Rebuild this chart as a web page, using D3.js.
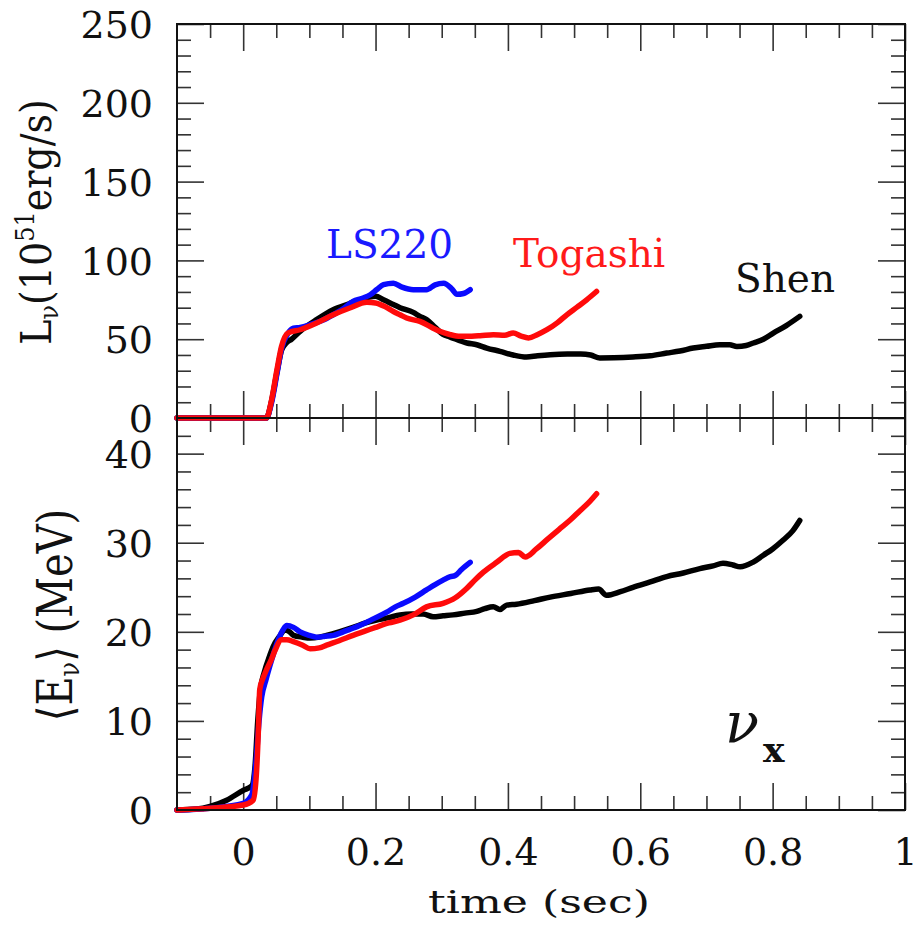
<!DOCTYPE html>
<html><head><meta charset="utf-8">
<script src="https://cdn.jsdelivr.net/npm/d3@7"></script>
<style>body{margin:0;background:#fff;} svg{display:block;} text{font-family:"DejaVu Serif",serif;fill:#111;}</style>
</head><body><svg id="c" width="920" height="931"></svg>
<script>
// ---------- data: luminosity (top panel) ----------
const shenLumT = [-0.1,0.035,0.043,0.051,0.058,0.066,0.073,0.086,0.111,0.136,0.16,0.176,0.2,0.212,0.227,0.237,0.257,0.267,0.277,0.29,0.302,0.312,0.338,0.353,0.368,0.388,0.408,0.428,0.445,0.464,0.49,0.51,0.525,0.539,0.56,0.589,0.615,0.64,0.66,0.68,0.7,0.72,0.735,0.746,0.76,0.771,0.786,0.801,0.82,0.841];
const shenLum  = [0,0,11,29,43,48,50,55,62.4,68.7,72.5,75,77.2,75,72,70,67,64.5,62.5,57.5,53,51.5,47.6,46.5,44.4,42.3,40,38.7,39.5,40.2,40.6,40.6,40,38.1,38.2,38.7,39.5,41.2,42.5,44.4,45.5,46.5,46.5,45.4,46,47.6,50,53.9,58.5,64.5];
const togLumT = [-0.1,0.035,0.043,0.051,0.058,0.068,0.086,0.111,0.136,0.161,0.187,0.2,0.215,0.227,0.237,0.247,0.267,0.287,0.297,0.312,0.328,0.338,0.358,0.378,0.395,0.408,0.42,0.431,0.445,0.459,0.475,0.489,0.505,0.519,0.534];
const togLum  = [0,0,11.6,30.6,45.5,54,56,60.3,65.5,69.8,73.4,73,70.5,67.6,65.5,63.4,61.3,57,55,53,51.8,51.8,52.2,52.9,52.5,53.9,52,50.8,53,56,60.5,65.5,70.5,75,80.3];
const lsLumT = [-0.1,0.035,0.043,0.051,0.058,0.068,0.076,0.086,0.101,0.12,0.136,0.15,0.166,0.18,0.192,0.202,0.212,0.227,0.24,0.257,0.277,0.29,0.303,0.315,0.323,0.333,0.343];
const lsLum  = [0,0,10,28,44,54,57,57.5,59.2,62,65.5,69,74,76,78.2,81.5,84.6,85.5,83,81.4,81.4,84.5,85.5,82,78.5,79,81.4];

// ---------- data: mean energy (bottom panel) ----------
const shenET = [-0.1,-0.07,-0.05,-0.025,0,0.013,0.018,0.022,0.026,0.032,0.04,0.045,0.055,0.063,0.07,0.076,0.09,0.101,0.115,0.126,0.145,0.166,0.185,0.2,0.22,0.237,0.255,0.272,0.287,0.302,0.317,0.335,0.353,0.365,0.378,0.388,0.398,0.413,0.44,0.464,0.495,0.524,0.537,0.549,0.57,0.589,0.615,0.64,0.665,0.69,0.71,0.725,0.74,0.751,0.77,0.786,0.8,0.816,0.83,0.841];
const shenE  = [0,0.1,0.4,1.1,2.2,2.7,5,10,13.5,15.5,17.3,18.3,19.5,20.2,20,19.6,19.4,19.3,19.4,19.6,20,20.5,21,21.3,21.6,21.9,22,22,21.7,21.8,21.9,22.1,22.3,22.6,22.8,22.5,23,23.1,23.5,23.9,24.3,24.7,24.8,24.1,24.5,25,25.6,26.2,26.6,27.1,27.4,27.7,27.5,27.3,27.8,28.6,29.3,30.3,31.3,32.5];
const togET = [-0.1,-0.05,0,0.015,0.02,0.023,0.025,0.03,0.035,0.042,0.048,0.058,0.066,0.076,0.09,0.101,0.115,0.126,0.145,0.166,0.185,0.2,0.22,0.237,0.257,0.277,0.302,0.32,0.338,0.35,0.363,0.383,0.403,0.416,0.426,0.443,0.46,0.479,0.495,0.509,0.522,0.534];
const togE  = [0,0.2,0.56,1.1,4.1,9,13.5,14.8,15.7,16.8,17.9,19.1,19.1,18.9,18.5,18.1,18.2,18.5,19,19.6,20.1,20.5,21,21.3,21.9,22.8,23.2,23.8,24.9,25.8,26.7,27.8,28.8,28.9,28.4,29.3,30.4,31.6,32.6,33.6,34.5,35.5];
const lsET = [-0.1,-0.05,0,0.013,0.02,0.024,0.028,0.034,0.04,0.047,0.053,0.06,0.066,0.076,0.086,0.1,0.111,0.124,0.136,0.155,0.176,0.195,0.217,0.23,0.242,0.26,0.277,0.29,0.302,0.313,0.32,0.33,0.343];
const lsE  = [0,0.2,0.75,1.7,6,10,12.7,14.5,16.1,17.8,19.1,20.2,20.7,20.5,20,19.6,19.4,19.5,19.6,20.1,20.7,21.4,22.2,22.8,23.2,23.9,24.7,25.3,25.8,26.2,26.3,27,27.8];

// ---------- ticks ----------
const xTicks = [0,0.2,0.4,0.6,0.8,1];
const xTickLabels = ["0","0.2","0.4","0.6","0.8","1"];
const lumTicks = [0,50,100,150,200,250];
const eTicks = [0,10,20,30,40];

const svg = d3.select("#c");
const L = 177, R = 905, T1 = 24, B1 = 418, B2 = 810;
const x = d3.scaleLinear().domain([-0.1, 1]).range([L, R]);
const yL = d3.scaleLinear().domain([0, 250]).range([B1, T1]);
const yE = d3.scaleLinear().domain([0, 44]).range([B2, B1]);

const xMinor = d3.range(-0.05, 1.001, 0.05).filter(v => Math.abs(v/0.2 - Math.round(v/0.2)) > 1e-6);
const lMinor = d3.range(10, 250, 10).filter(v => v % 50 !== 0);
const eMinor = d3.range(2, 44, 2).filter(v => v % 10 !== 0);

function ticks(gen, tr, values, size) {
  const g = svg.append("g").attr("transform", tr)
    .call(gen.tickValues(values).tickSizeInner(-size).tickSizeOuter(0).tickFormat(""));
  g.select(".domain").remove();
  g.selectAll(".tick line").attr("stroke", "#333").attr("stroke-width", 1.6);
}
function panelTicks(y, top, bottom, major, minor) {
  [[major, 27], [minor, 14]].forEach(([vals, s]) => {
    ticks(d3.axisBottom(x), `translate(0,${bottom})`, vals === major ? xTicks : xMinor, s);
    ticks(d3.axisTop(x), `translate(0,${top})`, vals === major ? xTicks : xMinor, s);
    ticks(d3.axisLeft(y), `translate(${L},0)`, vals, s);
    ticks(d3.axisRight(y), `translate(${R},0)`, vals, s);
  });
}
panelTicks(yL, T1, B1, lumTicks, lMinor);
panelTicks(yE, B1, B2, eTicks, eMinor);

// tick labels
function yLabels(y, vals) {
  const g = svg.append("g").attr("transform", `translate(${L},0)`)
    .call(d3.axisLeft(y).tickValues(vals).tickSize(0).tickPadding(24));
  g.select(".domain").remove();
  g.selectAll("text").attr("font-size", 38).attr("font-family", "DejaVu Serif").attr("fill", "#111").attr("dy", "0.36em");
}
yLabels(yL, lumTicks);
yLabels(yE, eTicks);
const gx = svg.append("g").attr("transform", `translate(0,${B2})`)
  .call(d3.axisBottom(x).tickValues(xTicks).tickSize(0).tickPadding(28).tickFormat((d, i) => xTickLabels[i]));
gx.select(".domain").remove();
gx.selectAll("text").attr("font-size", 38).attr("font-family", "DejaVu Serif").attr("fill", "#111").attr("dy", "0.72em");

// curves
function curve(ts, vs, y, color) {
  const data = ts.map((t, i) => [t, vs[i]]);
  svg.append("path").datum(data)
    .attr("fill", "none").attr("stroke", color).attr("stroke-width", 5.5)
    .attr("stroke-linejoin", "round").attr("stroke-linecap", "round")
    .attr("d", d3.line().x(d => x(d[0])).y(d => y(d[1])).curve(d3.curveMonotoneX));
}
curve(shenLumT, shenLum, yL, "#000");
curve(lsLumT, lsLum, yL, "#0a0aff");
curve(togLumT, togLum, yL, "#ff0a0a");
curve(shenET, shenE, yE, "#000");
curve(lsET, lsE, yE, "#0a0aff");
curve(togET, togE, yE, "#ff0a0a");

// frames
[[T1, B1], [B1, B2]].forEach(([t, b]) => {
  svg.append("rect").attr("x", L).attr("y", t).attr("width", R - L).attr("height", b - t)
    .attr("fill", "none").attr("stroke", "#111").attr("stroke-width", 2);
});

// model labels
svg.append("text").attr("x", 326).attr("y", 258).attr("font-size", 39).style("fill", "#1a1aff").text("LS220");
svg.append("text").attr("x", 513).attr("y", 267).attr("font-size", 39).style("fill", "#ff1a1a").text("Togashi");
svg.append("text").attr("x", 735).attr("y", 292).attr("font-size", 39).style("fill", "#111").text("Shen");

// nu_x
const nx = svg.append("text").attr("x", 725).attr("y", 742);
nx.append("tspan").attr("font-size", 56).attr("font-style", "italic").text("ν");
nx.append("tspan").attr("font-size", 36).attr("font-weight", "bold").attr("dx", 4).attr("dy", 20).text("x");

// axis titles
const t1 = svg.append("text").attr("text-anchor", "middle").attr("font-size", 38)
  .attr("transform", "translate(51,222) scale(1.12,1) rotate(-90)");
t1.append("tspan").text("L");
t1.append("tspan").attr("font-size", 24).attr("dy", 6).text("ν");
t1.append("tspan").attr("dy", -6).text("(10");
t1.append("tspan").attr("font-size", 24).attr("dy", -15).text("51");
t1.append("tspan").attr("dy", 15).text("erg/s)");

const t2 = svg.append("text").attr("text-anchor", "middle").attr("font-size", 40)
  .attr("transform", "translate(72,615) scale(1.2,1) rotate(-90)");
t2.append("tspan").text("⟨E");
t2.append("tspan").attr("font-size", 24).attr("dy", 6).text("ν");
t2.append("tspan").attr("dy", -6).text("⟩ (MeV)");

svg.append("text").attr("x", 539).attr("y", 913).attr("text-anchor", "middle").attr("font-size", 32)
  .attr("textLength", 222).attr("lengthAdjust", "spacingAndGlyphs").text("time  (sec)");
</script></body></html>
